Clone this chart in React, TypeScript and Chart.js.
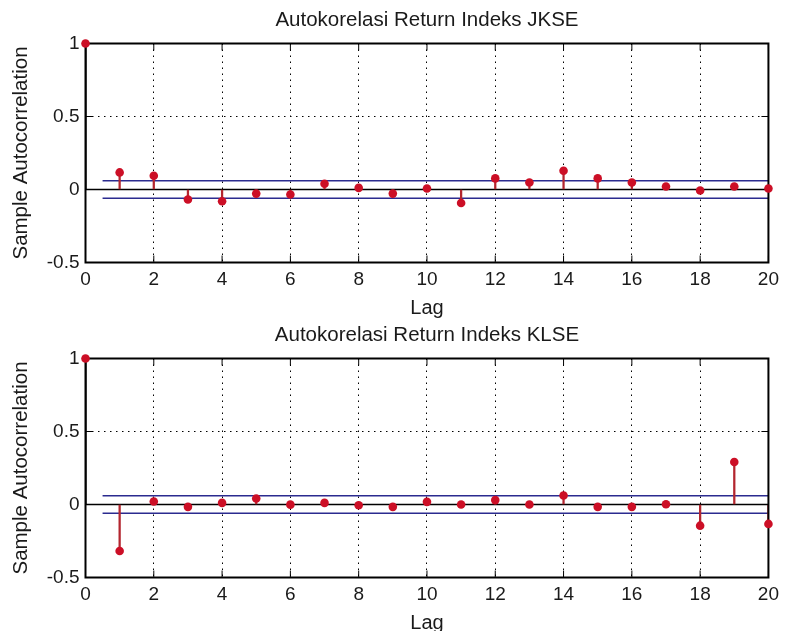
import React, { useEffect, useRef } from "react";
import { Chart, registerables } from "chart.js";

Chart.register(...registerables);

// ---- data ----
const lags = [0, 1, 2, 3, 4, 5, 6, 7, 8, 9, 10, 11, 12, 13, 14, 15, 16, 17, 18, 19, 20];
const jkseAcf = [1, 0.117, 0.094, -0.069, -0.08, -0.028, -0.034, 0.039, 0.011, -0.028, 0.007, -0.092, 0.076, 0.048, 0.128, 0.076, 0.048, 0.021, -0.007, 0.021, 0.007];
const klseAcf = [1, -0.319, 0.021, -0.016, 0.011, 0.041, -0.001, 0.011, -0.005, -0.016, 0.018, 0.0, 0.03, 0.0, 0.062, -0.016, -0.016, 0.002, -0.145, 0.291, -0.133];
const jkseBounds = [0.06, -0.06];
const klseBounds = [0.06, -0.06];
const boundsStart = 0.5;
const xTicks = [0, 2, 4, 6, 8, 10, 12, 14, 16, 18, 20];
const yTicks = [-0.5, 0, 0.5, 1];
const yTickLabels = ["-0.5", "0", "0.5", "1"];
const titles = ["Autokorelasi Return Indeks JKSE", "Autokorelasi Return Indeks KLSE"];
const xLabel = "Lag";
const yLabel = "Sample Autocorrelation";

const FONT = "'Liberation Sans', Arial, Helvetica, sans-serif";
const TEXT = "#1a1a1a";
const STEM = "#b3262f";

function drawBox(chart: any) {
  const { ctx, chartArea: a, scales } = chart;
  ctx.save();
  ctx.strokeStyle = "#000";
  ctx.lineWidth = 1;
  const tl = 7;
  ctx.beginPath();
  for (const v of xTicks) {
    const px = scales.x.getPixelForValue(v);
    ctx.moveTo(px, a.bottom);
    ctx.lineTo(px, a.bottom - tl);
    ctx.moveTo(px, a.top);
    ctx.lineTo(px, a.top + tl);
  }
  for (const v of yTicks) {
    const py = scales.y.getPixelForValue(v);
    ctx.moveTo(a.left, py);
    ctx.lineTo(a.left + tl, py);
    ctx.moveTo(a.right, py);
    ctx.lineTo(a.right - tl, py);
  }
  ctx.stroke();
  ctx.lineWidth = 2;
  ctx.strokeRect(a.left, a.top, a.right - a.left, a.bottom - a.top);
  ctx.restore();
}

const boxPlugin = {
  id: "matlabBox",
  afterDatasetDraw(chart: any, args: any) {
    // draw the axes box after the stems, before the markers
    if (args.index === 1) drawBox(chart);
  },
};

function StemChart({ title, values, bounds, top }: { title: string; values: number[]; bounds: number[]; top: number }) {
  const ref = useRef<HTMLCanvasElement>(null);
  useEffect(() => {
    const pts = lags.map((l, i) => ({ x: l, y: values[i] }));
    const chart = new Chart(ref.current as HTMLCanvasElement, {
      type: "line",
      data: {
        datasets: [
          {
            type: "line",
            data: pts,
            showLine: false,
            pointRadius: 4.3,
            pointBackgroundColor: "#cc0f26",
            pointBorderWidth: 0,
            clip: false as any,
            order: 0,
          } as any,
          {
            type: "bar",
            data: pts,
            // lag-0 stem lies on the left axis line, which hides it
            backgroundColor: (c: any) => (c.raw && c.raw.x === lags[0] ? "#000" : STEM),
            barThickness: 1.6,
            order: 1,
          } as any,
          {
            type: "line",
            data: [{ x: boundsStart, y: bounds[0] }, { x: lags[lags.length - 1], y: bounds[0] }],
            borderColor: "#2b2b8f",
            borderWidth: 1.4,
            pointRadius: 0,
            order: 2,
          } as any,
          {
            type: "line",
            data: [{ x: boundsStart, y: bounds[1] }, { x: lags[lags.length - 1], y: bounds[1] }],
            borderColor: "#2b2b8f",
            borderWidth: 1.4,
            pointRadius: 0,
            order: 2,
          } as any,
          {
            type: "line",
            data: [{ x: lags[0], y: 0 }, { x: lags[lags.length - 1], y: 0 }],
            borderColor: "#000",
            borderWidth: 1.5,
            pointRadius: 0,
            order: 3,
          } as any,
        ],
      },
      options: {
        responsive: false,
        animation: false,
        events: [],
        layout: { padding: { left: 0, right: 14, top: 0, bottom: 0 } },
        plugins: {
          legend: { display: false },
          tooltip: { enabled: false },
          title: {
            display: true,
            text: title,
            fullSize: false,
            color: TEXT,
            font: { family: FONT, size: 20.5, weight: "normal", lineHeight: 1.2 },
            padding: { top: 7.7, bottom: 11.2 },
          },
        },
        scales: {
          x: {
            type: "linear",
            min: 0,
            max: 20,
            offset: false,
            afterBuildTicks: (s: any) => {
              s.ticks = xTicks.map((v) => ({ value: v }));
            },
            afterFit: (s: any) => {
              s.height = 67.5;
            },
            ticks: {
              color: TEXT,
              font: { family: FONT, size: 19 },
              padding: 6,
              maxRotation: 0,
              autoSkip: false,
              callback: (v: any) => String(v),
            },
            grid: {
              offset: false,
              drawTicks: false,
              lineWidth: 1,
              color: (c: any) => (c.tick && (c.tick.value === 0 || c.tick.value === 20) ? "rgba(0,0,0,0)" : "#000"),
            },
            border: { display: false, dash: [1.5, 4.5] },
            title: {
              display: true,
              text: xLabel,
              color: TEXT,
              font: { family: FONT, size: 20, lineHeight: 1.2 },
              padding: { top: 0, bottom: 10 },
            },
          },
          y: {
            type: "linear",
            min: -0.5,
            max: 1,
            afterBuildTicks: (s: any) => {
              s.ticks = yTicks.map((v) => ({ value: v }));
            },
            afterFit: (s: any) => {
              s.width = 85.5;
            },
            ticks: {
              color: TEXT,
              font: { family: FONT, size: 19 },
              padding: 6,
              callback: (v: any) => {
                const i = yTicks.indexOf(Number(v));
                return i >= 0 ? yTickLabels[i] : "";
              },
            },
            grid: {
              drawTicks: false,
              lineWidth: 1,
              color: (c: any) =>
                c.tick && (c.tick.value === -0.5 || c.tick.value === 1 || c.tick.value === 0) ? "rgba(0,0,0,0)" : "#000",
            },
            border: { display: false, dash: [1.5, 4.5] },
            title: {
              display: true,
              text: yLabel,
              color: TEXT,
              font: { family: FONT, size: 20.5, lineHeight: 1.2 },
              padding: { top: 9, bottom: 0 },
            },
          },
        },
      } as any,
      plugins: [boxPlugin],
    });
    return () => chart.destroy();
  }, []);
  return (
    <canvas
      ref={ref}
      width={785}
      height={330}
      style={{ position: "absolute", left: 0, top, width: 785, height: 330, display: "block" }}
    />
  );
}

export default function App() {
  return (
    <div
      style={{
        position: "fixed",
        left: 0,
        top: 0,
        width: 785,
        height: 631,
        overflow: "hidden",
        background: "#fff",
      }}
    >
      <StemChart title={titles[0]} values={jkseAcf} bounds={jkseBounds} top={0} />
      <StemChart title={titles[1]} values={klseAcf} bounds={klseBounds} top={315} />
    </div>
  );
}
